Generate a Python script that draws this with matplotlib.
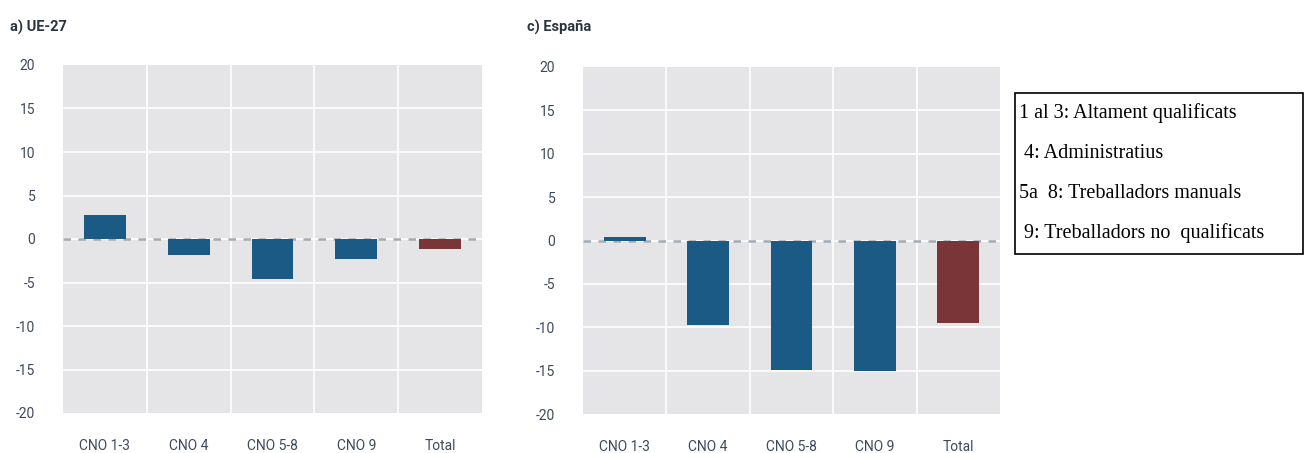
import matplotlib
matplotlib.use('Agg')
import matplotlib.pyplot as plt
from matplotlib.patches import Rectangle

plt.rcParams['axes.unicode_minus'] = False

# Data
categories = ['CNO 1-3', 'CNO 4', 'CNO 5-8', 'CNO 9', 'Total']
ue27 = [2.8, -1.85, -4.6, -2.3, -1.2]
espana = [0.45, -9.7, -14.9, -15.1, -9.55]
yticks = [20, 15, 10, 5, 0, -5, -10, -15, -20]
legend_lines = ['1 al 3: Altament qualificats',
                ' 4: Administratius',
                '5a  8: Treballadors manuals',
                ' 9: Treballadors no  qualificats']

blue = '#1a5a85'
red = '#7a3538'
bg = '#e5e5e7'
tick_color = '#3e4a5c'
sans = ['Liberation Sans Narrow', 'Roboto', 'DejaVu Sans']

fig = plt.figure(figsize=(13.06, 4.53), dpi=100)


def panel(rect, values, title, title_x):
    ax = fig.add_axes(rect)
    ax.set_facecolor(bg)
    colors = [blue] * (len(values) - 1) + [red]
    x = range(len(categories))
    ax.set_xlim(-0.5, len(categories) - 0.5)
    ax.set_ylim(-20, 20)
    # white grid
    for y in yticks[1:-1]:
        ax.axhline(y, color='white', lw=1.2, zorder=1)
    for i in range(1, len(categories)):
        ax.axvline(i - 0.5, color='white', lw=1.2, zorder=1)
    ax.axhline(0, color='#a3abb4', lw=1.8, ls=(0, (3, 3)), zorder=2)
    ax.bar(x, values, width=0.5, color=colors, zorder=3)
    ax.set_xticks(list(x))
    ax.set_xticklabels(categories)
    ax.set_yticks(yticks)
    ax.tick_params(length=0, colors=tick_color, labelsize=10)
    ax.tick_params(axis='y', pad=20)
    ax.tick_params(axis='x', pad=19)
    for lab in ax.get_xticklabels() + ax.get_yticklabels():
        lab.set_family(sans)
    for s in ax.spines.values():
        s.set_visible(False)
    fig.text(title_x, 1 - 27 / 453, title, fontsize=10.5, fontweight='bold',
             color='#2a3440', family=sans, va='center')
    return ax


panel([63 / 1306, 1 - 413 / 453, 419 / 1306, 348 / 453], ue27, 'a) UE-27', 10 / 1306)
panel([583 / 1306, 1 - 414 / 453, 417 / 1306, 347 / 453], espana, 'c) España', 527 / 1306)

# legend box
fig.patches.append(Rectangle((1015 / 1306, 1 - 254 / 453), 288 / 1306, 161 / 453,
                             transform=fig.transFigure, fill=False,
                             edgecolor='black', lw=1.2))
ys = [113, 154, 194, 233]
for txt, y in zip(legend_lines, ys):
    fig.text(1019 / 1306, 1 - y / 453, txt, fontsize=14.5, family='Liberation Serif',
             va='center', color='black')

fig.savefig('out.png', dpi=100)
